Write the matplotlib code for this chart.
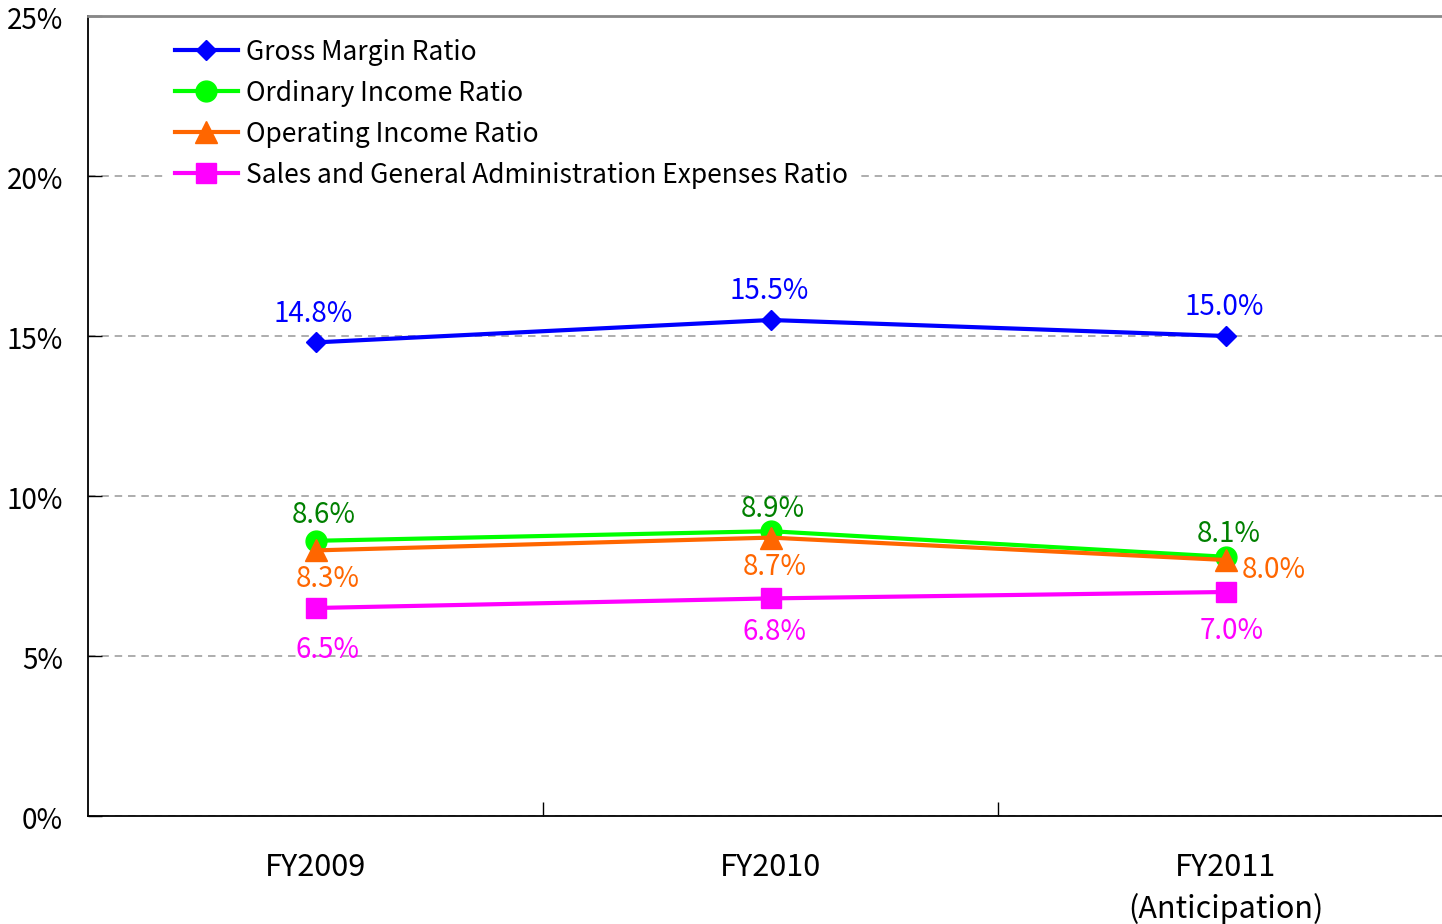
import matplotlib
matplotlib.use("Agg")
import matplotlib.pyplot as plt
from matplotlib import font_manager
import matplotlib.transforms as mtransforms

names = {f.name for f in font_manager.fontManager.ttflist}
fam = [f for f in ["Noto Sans CJK JP", "DejaVu Sans"] if f in names]
plt.rcParams['font.family'] = fam

categories = ["FY2009", "FY2010", "FY2011\n(Anticipation)"]
gross = [14.8, 15.5, 15.0]
ordinary = [8.6, 8.9, 8.1]
operating = [8.3, 8.7, 8.0]
sga = [6.5, 6.8, 7.0]
yticks = [0, 5, 10, 15, 20, 25]

W, H = 1442, 924
PX = 0.72  # points per pixel at dpi 100
fig = plt.figure(figsize=(W / 100, H / 100), dpi=100)
ax = fig.add_axes([88 / W, (H - 816) / H, (1453.5 - 88) / W, (816 - 16) / H])
ax.set_xlim(-0.5, 2.5)
ax.set_ylim(0, 25)
x = list(range(len(categories)))

ax.plot(x, gross, color="#0000FF", lw=3, marker="D", ms=10.5, label="Gross Margin Ratio", zorder=5)
ax.plot(x, ordinary, color="#00FF00", lw=3, marker="o", ms=15, label="Ordinary Income Ratio", zorder=4)
ax.plot(x, operating, color="#FF6600", lw=3, marker="^", ms=16, label="Operating Income Ratio", zorder=5)
ax.plot(x, sga, color="#FF00FF", lw=3, marker="s", ms=14, label="Sales and General Administration Expenses Ratio", zorder=5)

# label offsets in pixels (dx, dy up)
off_gross = [(-2, 28), (-2, 29), (-2, 29)]
off_ord = [(8, 26), (2, 22), (3, 23)]
off_op = [(12, -29), (4, -29), (16, -10)]
off_sga = [(12, -42), (4, -34), (6, -39)]

fs = 20

def lab(vals, offs, color, i, ha="center"):
    dx, dy = offs[i]
    ax.annotate(f"{vals[i]:.1f}%", (i, vals[i]), xytext=(dx * PX, dy * PX), textcoords="offset points",
                ha=ha, va="center", color=color, fontsize=fs, zorder=6)

for i in x:
    lab(gross, off_gross, "#0000FF", i)
    lab(ordinary, off_ord, "#008000", i)
    lab(operating, off_op, "#FF6600", i, ha="left" if i == 2 else "center")
    lab(sga, off_sga, "#FF00FF", i)

ax.set_yticks(yticks)
ax.set_yticklabels([f"{v}%" for v in yticks], fontsize=20)
ax.set_xticks(x)
ax.set_xticklabels(categories, fontsize=22, linespacing=1.38)
ax.set_xticks([0.5, 1.5], minor=True)
ax.tick_params(axis="x", which="major", length=0, pad=26)
ax.tick_params(axis="x", which="minor", direction="in", length=10, width=1)
ax.tick_params(axis="y", direction="in", length=10, width=1, pad=18)
shift = mtransforms.ScaledTranslation(0, -5 / 100, fig.dpi_scale_trans)
for lbl in ax.get_yticklabels():
    lbl.set_verticalalignment("center")
    lbl.set_transform(lbl.get_transform() + shift)

ax.grid(axis="y", color="#A0A0A0", linestyle=(0, (4.5, 3.5)), lw=1.2)
ax.set_axisbelow(True)
ax.spines["right"].set_visible(False)
ax.spines["top"].set_color("#888888")
ax.spines["top"].set_linewidth(2)
ax.spines["left"].set_linewidth(1.3)
ax.spines["bottom"].set_linewidth(1.3)

leg = ax.legend(loc="upper left", bbox_to_anchor=(0.048, 0.998), frameon=True, fontsize=19,
                handlelength=2.4, labelspacing=0.53, handletextpad=0.3, borderpad=0.3)
leg.get_frame().set_edgecolor("none")
leg.get_frame().set_facecolor("white")
leg.get_frame().set_alpha(1)

fig.savefig("out.png", dpi=100)
